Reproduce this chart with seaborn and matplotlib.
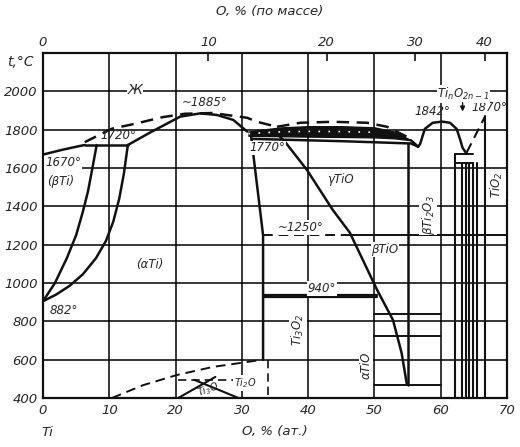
import numpy as np
import matplotlib
matplotlib.use("Agg")
import matplotlib.pyplot as plt
import seaborn as sns

# ---- data (at.% O, temperature C) ----
liq_x = [0, 2.9, 5.3, 6.3]
liq_t = [1670, 1695, 1713, 1720]
peri_x = [6.3, 12.8]
peri_t = [1720, 1720]
btr_x = [0, 1.8, 3.6, 5.0, 6.0, 6.8, 7.4, 8.1]
btr_t = [905, 1000, 1130, 1250, 1370, 1480, 1590, 1720]
alb_x = [0, 2.0, 4.0, 6.0, 8.0, 9.5, 10.6, 11.5, 12.2, 12.8]
alb_t = [905, 940, 985, 1045, 1130, 1220, 1320, 1440, 1570, 1720]
sol_x = [12.8, 16.1, 20.7, 23.7, 26.2, 28.7, 30.8]
sol_t = [1720, 1784, 1868, 1885, 1877, 1851, 1790]
dliq_x = [6.3, 10.4, 13.9, 18.0, 21.4, 25.6, 30.8, 32.3, 35.3]
dliq_t = [1735, 1805, 1831, 1865, 1883, 1887, 1862, 1841, 1815]
dliq2_x = [35.3, 38.8, 43.7, 48.9, 51.9, 54.9]
dliq2_t = [1815, 1836, 1841, 1836, 1815, 1763]
band_x = [31, 33, 36, 40, 45, 50, 53, 55.5]
band_top = [1790, 1800, 1812, 1818, 1818, 1812, 1790, 1745]
band_bot = [1768, 1767, 1766, 1764, 1762, 1760, 1755, 1745]
low_x = [31.5, 45, 55.5, 56.6]
low_t = [1752, 1740, 1728, 1711]
gam_left_x = [31.4, 33.2, 33.2]
gam_left_t = [1765, 1250, 600]
diag_x = [35.7, 36.5, 39.8, 43.7, 46.3, 50.4, 52.8, 54.1, 54.9]
diag_t = [1765, 1737, 1591, 1382, 1262, 964, 807, 635, 470]
t1250_dash_x = [33.2, 46.3]
t1250_solid_x = [46.3, 70]
t1250 = 1250
t940_x = [33.2, 50.4]
t940 = [940, 925]
tio_h_x = [50, 60]
tio_h_t = [840, 725, 470]
v55_x = [55, 55]
v55_t = [1730, 470]
ord_x = [10.4, 15.1, 20.2, 25.6, 30.8, 33.2]
ord_t = [400, 467, 520, 562, 588, 600]
ord_v_x = [34, 34]
ord_v_t = [600, 400]
ti3o_a_x = [20.4, 26.0]
ti3o_a_t = [400, 510]
ti3o_b_x = [22.8, 29.5]
ti3o_b_t = [495, 400]
ti3o_h_x = [20.4, 28.7]
ti3o_h_t = [494, 494]
dome_x = [55.5, 56.6, 56.9, 57.6, 58.8, 60.2, 61.4, 62.4, 62.9, 63.3, 63.9]
dome_t = [1745, 1711, 1726, 1804, 1836, 1842, 1836, 1804, 1752, 1705, 1675]
ti2o3_r_x = [62.1, 62.1]
ti2o3_r_t = [1675, 400]
box_x = [62.1, 64.8]
box_t = [1675, 1625]
magneli_x = [63.2, 63.8, 64.3, 64.8, 65.4]
magneli_t = [1625, 400]
tio2_liq_x = [63.9, 66.7]
tio2_liq_t = [1680, 1870]
tio2_x = [66.7, 66.7]
tio2_t = [1870, 400]

x_ticks = [0, 10, 20, 30, 40, 50, 60, 70]
y_ticks = [400, 600, 800, 1000, 1200, 1400, 1600, 1800, 2000]
wt_ticks = [0, 10, 20, 30, 40]

sns.set_style("white")
plt.rcParams['font.family'] = ['DejaVu Sans']
plt.rcParams['font.style'] = 'italic'
plt.rcParams['mathtext.default'] = 'it'

fig = plt.figure(figsize=(5.2, 4.47), dpi=100)
ax = fig.add_axes([43 / 520, 1 - 398 / 447, 464 / 520, 345 / 447])
ax.set_xlim(0, 70)
ax.set_ylim(400, 2200)

# grid drawn like the printed diagram
for xv in x_ticks:
    ax.axvline(xv, color='k', lw=1.1, zorder=1)
for yv in y_ticks + [2200]:
    ax.axhline(yv, color='k', lw=1.1, zorder=1)

K = '#111111'


def seg(x, y, ls='-', lw=1.8):
    sns.lineplot(x=x, y=y, sort=False, estimator=None, color=K,
                 lw=lw, linestyle=ls, ax=ax, zorder=3)


seg(liq_x, liq_t)
seg(peri_x, peri_t)
seg(btr_x, btr_t)
seg(alb_x, alb_t)
seg(sol_x, sol_t)
seg(dliq_x, dliq_t, ls=(0, (5, 3)))
seg(dliq2_x, dliq2_t, ls=(0, (5, 3)))
ax.fill_between(band_x, band_bot, band_top, color=K, zorder=3)
mid = [(a + b) / 2 for a, b in zip(band_top, band_bot)]
ax.plot(band_x[:-2], mid[:-2], color='white', lw=1.2, ls=(0, (1, 5)), zorder=4)
seg(low_x, low_t)
seg(gam_left_x, gam_left_t)
seg(diag_x, diag_t)
seg(t1250_dash_x, [t1250, t1250], ls=(0, (5, 3)), lw=1.4)
seg(t1250_solid_x, [t1250, t1250], lw=1.4)
for tv in t940:
    seg(t940_x, [tv, tv], lw=1.6)
for tv in tio_h_t:
    seg(tio_h_x, [tv, tv], lw=1.4)
seg(v55_x, v55_t)
seg(ord_x, ord_t, ls=(0, (5, 3)), lw=1.4)
seg(ord_v_x, ord_v_t, ls=(0, (5, 3)), lw=1.2)
seg(ti3o_a_x, ti3o_a_t, lw=1.5)
seg(ti3o_b_x, ti3o_b_t, lw=1.5)
seg(ti3o_h_x, ti3o_h_t, ls=(0, (5, 3)), lw=1.2)
seg(dome_x, dome_t)
seg(ti2o3_r_x, ti2o3_r_t, lw=1.5)
for tv in box_t:
    seg(box_x, [tv, tv], lw=1.4)
for xv in magneli_x:
    seg([xv, xv], magneli_t, lw=1.5)
seg(tio2_liq_x, tio2_liq_t, ls=(0, (5, 3)), lw=1.5)
seg(tio2_x, tio2_t, lw=1.5)

# labels inside diagram
bb = dict(facecolor='white', edgecolor='none', pad=0.5)
fs = 8.5
ax.text(13.9, 2008, 'Ж', fontsize=10, ha='center', va='center', bbox=bb)
ax.text(24.4, 1940, '~1885°', fontsize=fs, ha='center', va='center', bbox=bb)
ax.text(11.3, 1770, '1720°', fontsize=fs, ha='center', va='center')
ax.text(3.0, 1627, '1670°', fontsize=fs, ha='center', va='center', bbox=bb)
ax.text(2.7, 1528, '(βTi)', fontsize=fs, ha='center', va='center', bbox=bb)
ax.text(16.1, 1094, '(αTi)', fontsize=fs, ha='center', va='center', bbox=bb)
ax.text(3.2, 855, '882°', fontsize=fs, ha='center', va='center', bbox=bb)
ax.text(33.8, 1705, '1770°', fontsize=fs, ha='center', va='center', bbox=bb)
ax.text(44.8, 1538, 'γTiO', fontsize=fs, ha='center', va='center', bbox=bb)
ax.text(38.8, 1290, '~1250°', fontsize=fs, ha='center', va='center', bbox=bb)
ax.text(51.6, 1175, 'βTiO', fontsize=fs, ha='center', va='center', bbox=bb)
ax.text(42.1, 972, '940°', fontsize=fs, ha='center', va='center', bbox=bb)
ax.text(38.5, 755, 'Ti$_3$O$_2$', fontsize=fs, ha='center', va='center', rotation=90, bbox=bb)
ax.text(48.7, 572, 'αTiO', fontsize=fs, ha='center', va='center', rotation=90, bbox=bb)
ax.text(58.1, 1356, 'βTi$_2$O$_3$', fontsize=fs, ha='center', va='center', rotation=90, bbox=bb)
ax.text(68.5, 1512, 'TiO$_2$', fontsize=fs, ha='center', va='center', rotation=90, bbox=bb)
ax.text(25.0, 445, 'Ti$_3$O', fontsize=7, ha='center', va='center', rotation=20)
ax.text(30.5, 478, 'Ti$_2$O', fontsize=7, ha='center', va='center', bbox=bb)
ax.text(58.7, 1895, '1842°', fontsize=fs, ha='center', va='center')
ax.text(67.4, 1918, '1870°', fontsize=fs, ha='center', va='center')
ax.text(63.4, 1985, 'Ti$_n$O$_{2n-1}$', fontsize=fs, ha='center', va='center', bbox=bb)
ax.annotate('', xy=(63.3, 1880), xytext=(63.3, 1955),
            arrowprops=dict(arrowstyle='-|>', color=K, lw=1, mutation_scale=7))

# axes and ticks
ax.set_xticks(x_ticks)
ax.set_yticks(y_ticks)
ax.set_xticklabels([str(v) for v in x_ticks])
ax.set_yticklabels([str(v) for v in y_ticks])
ax.tick_params(length=0, labelsize=9.5, pad=4)
for s in ax.spines.values():
    s.set_color(K)
    s.set_linewidth(1.6)


def at2wt(a):
    a = np.clip(np.asarray(a, dtype=float), 0, 99.9)
    return 1600 * a / (16 * a + 47.87 * (100 - a))


def wt2at(w):
    w = np.clip(np.asarray(w, dtype=float), 0, 99.9)
    return 100 * (w / 16) / (w / 16 + (100 - w) / 47.87)


sec = ax.secondary_xaxis('top', functions=(at2wt, wt2at))
sec.set_xticks(wt_ticks)
sec.set_xticklabels([str(v) for v in wt_ticks])
sec.tick_params(direction='in', length=6, width=1.3, labelsize=9.5, pad=3)
sec.spines['top'].set_visible(False)

fig.text(270 / 520, 1 - 12 / 447, 'O, % (по массе)', fontsize=9.5, ha='center', va='center')
fig.text(20 / 520, 1 - 62 / 447, 't,°C', fontsize=10, ha='center', va='center')
fig.text(47 / 520, 1 - 432 / 447, 'Ti', fontsize=9.5, ha='center', va='center')
fig.text(275 / 520, 1 - 432 / 447, 'O, % (ат.)', fontsize=9.5, ha='center', va='center')

fig.savefig('out.png', dpi=100, facecolor='white')
